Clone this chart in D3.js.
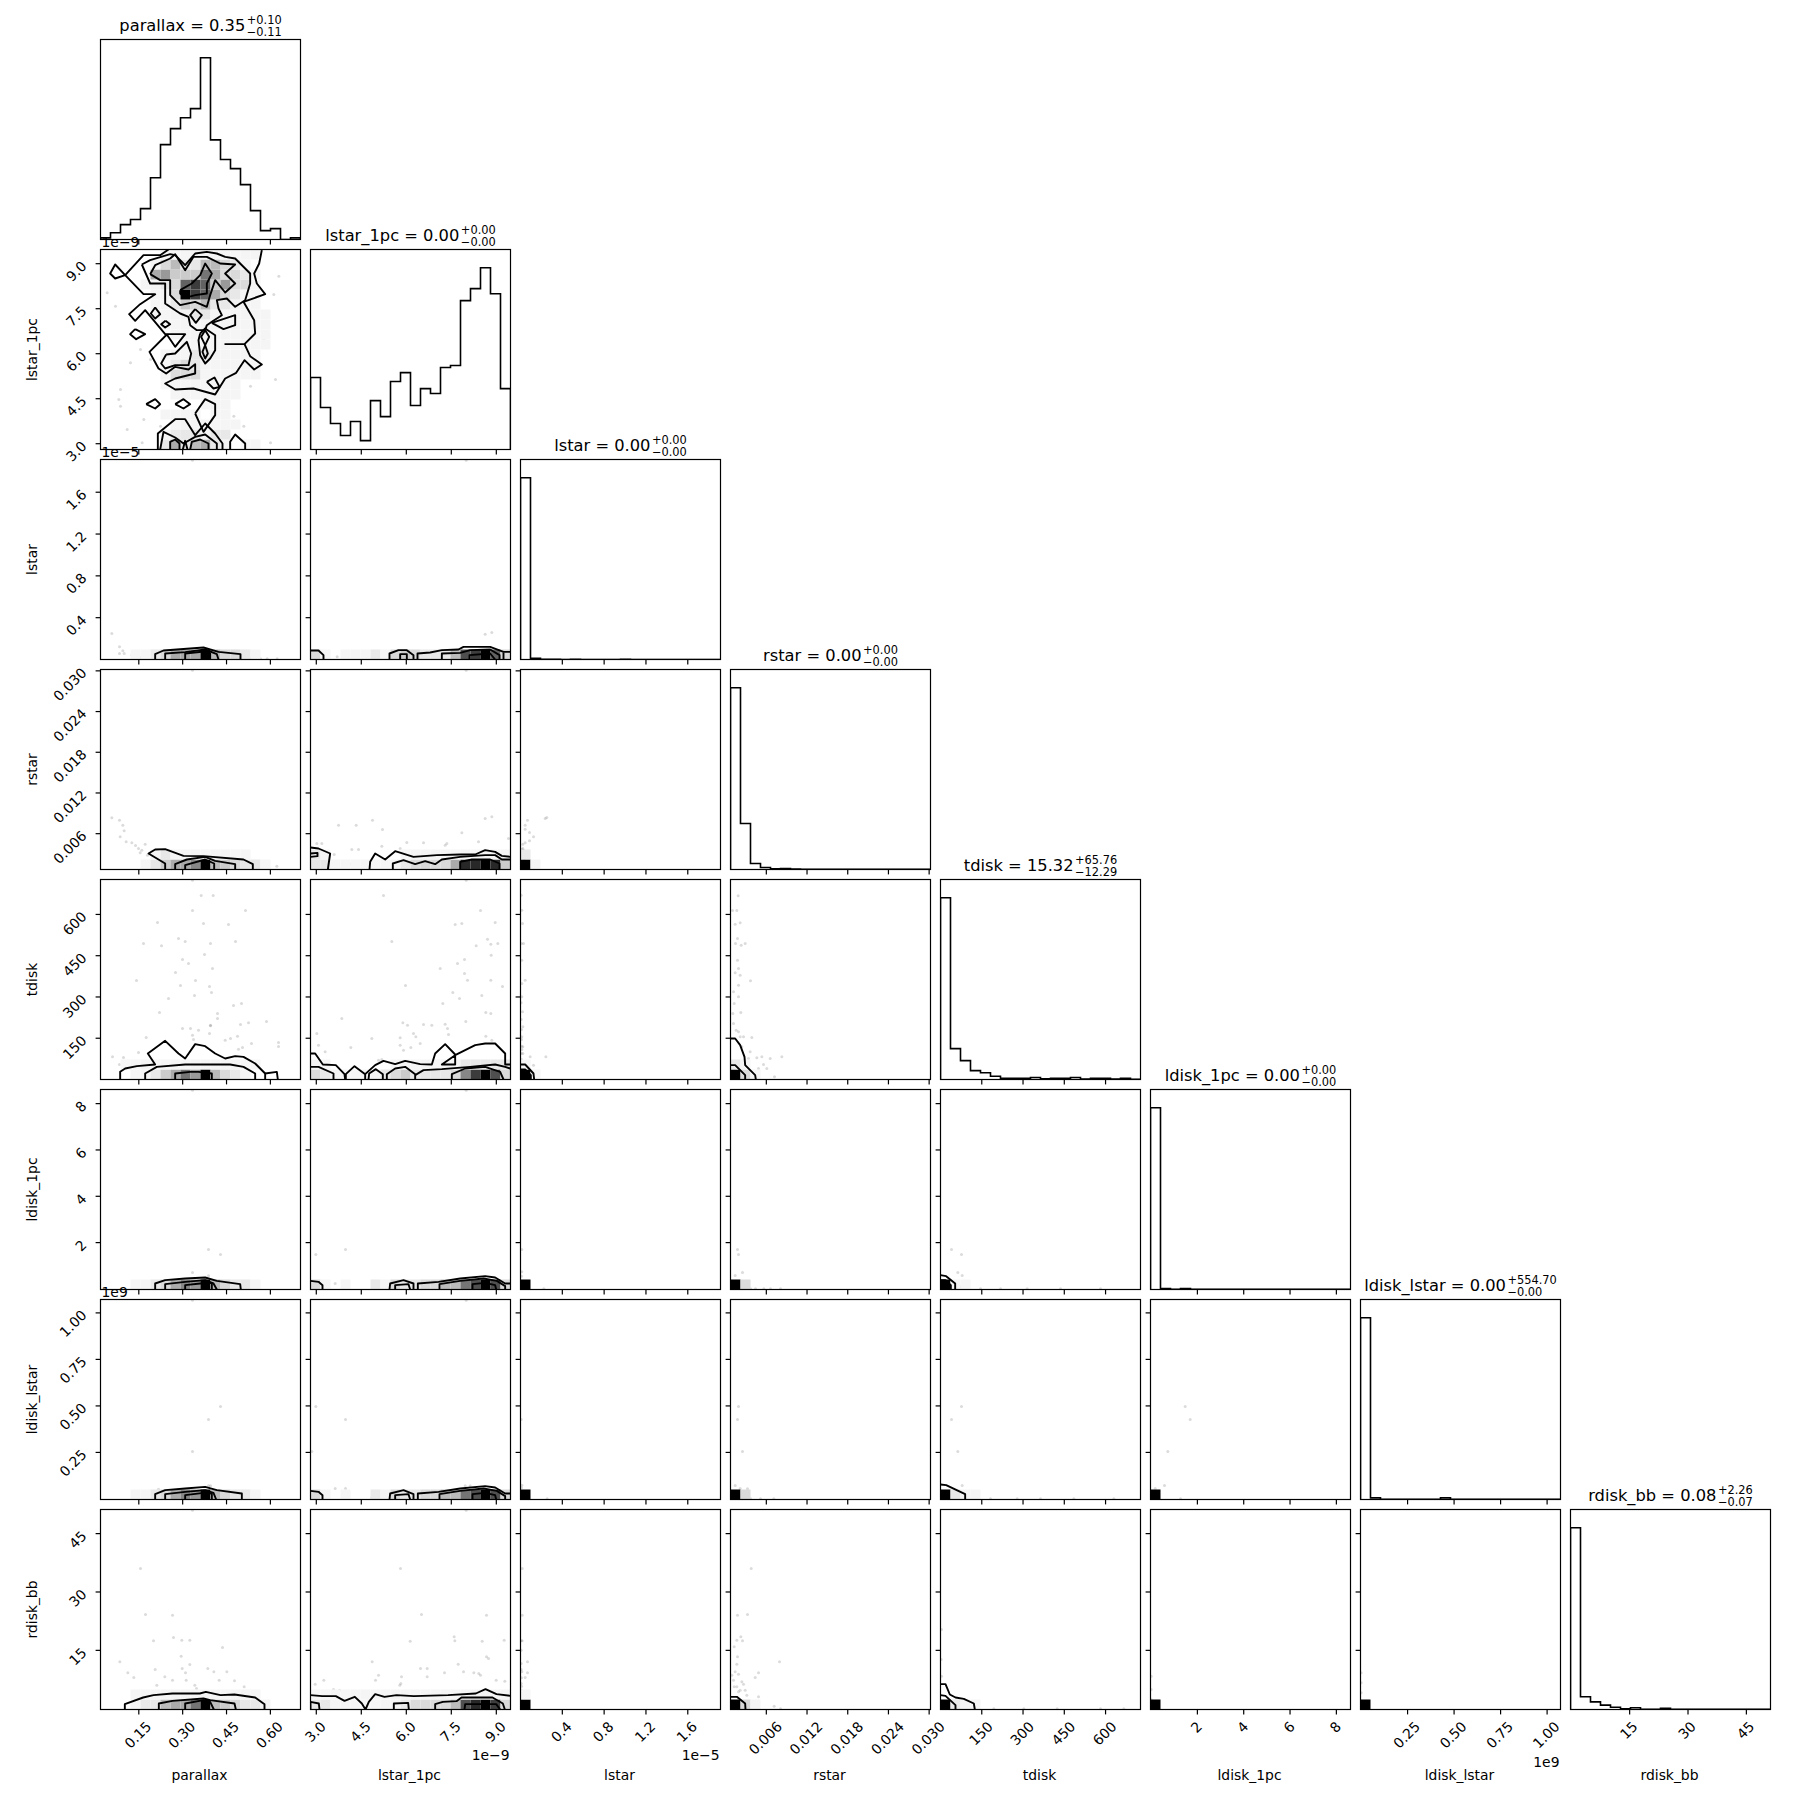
<!DOCTYPE html>
<html><head><meta charset="utf-8">
<script src="https://cdnjs.cloudflare.com/ajax/libs/d3/7.8.5/d3.min.js"></script>
<style>html,body{margin:0;padding:0;background:#fff}svg{display:block}text{font-family:"DejaVu Sans",sans-serif;fill:#000}</style>
</head><body><svg id="c" width="1809" height="1809"></svg>
<script>
// ---- variables ----
const names = ["parallax","lstar_1pc","lstar","rstar","tdisk","ldisk_1pc","ldisk_lstar","rdisk_bb"];
const limits = [[0.019,0.703],[2.807,9.473],[0,1.913],[0.00072,0.0302],[0,727],[-0.024,8.61],[-0.003,1.072],[-0.2,51.2]];
const tickVals = [[0.15,0.30,0.45,0.60],[3,4.5,6,7.5,9],[0.4,0.8,1.2,1.6],[0.006,0.012,0.018,0.024,0.030],[150,300,450,600],[2,4,6,8],[0.25,0.50,0.75,1.00],[15,30,45]];
const tickLabels = [["0.15","0.30","0.45","0.60"],["3.0","4.5","6.0","7.5","9.0"],["0.4","0.8","1.2","1.6"],["0.006","0.012","0.018","0.024","0.030"],["150","300","450","600"],["2","4","6","8"],["0.25","0.50","0.75","1.00"],["15","30","45"]];
const yOffsetText = {1:"1e\u22129",2:"1e\u22125",6:"1e9"};
const xOffsetText = {1:["1e\u22129",1760],2:["1e\u22125",1760],6:["1e9",1767]};
const medians = ["0.35","0.00","0.00","0.00","15.32","0.00","0.00","0.08"];
const uppers = ["+0.10","+0.00","+0.00","+0.00","+65.76","+0.00","+554.70","+2.26"];
const lowers = ["\u22120.11","\u22120.00","\u22120.00","\u22120.00","\u221212.29","\u22120.00","\u22120.00","\u22120.07"];

// ---- 1D histograms: 20 bins, percent of tallest bin ----
const hist_parallax = [0.9,3.7,8.2,11,17,34,52.2,61,67,72,100,54.8,44,39,30.2,15.9,4.9,6,0,0.9];
const hist_lstar_1pc = [39.6,23.1,14.3,7.7,15.4,4.9,26.9,18.1,37.4,42.3,24.2,33.5,30.8,45.1,46.2,81.9,88.5,100,85.7,33.5];
const hist_lstar = [100,0.6,0.1,0.05,0,0.05,0,0,0,0,0.05,0,0,0,0,0,0,0,0,0];
const hist_rstar = [100,25.3,3.3,1.1,0.4,0.5,0.3,0.1,0.1,0.05,0.05,0.05,0.1,0.05,0.05,0.05,0.05,0.05,0.05,0.1];
const hist_tdisk = [100,17,10.4,4.9,3.7,1.8,0.7,0.7,0.7,1.1,0.4,0.6,0.6,1.1,0.2,0.6,0.6,0.2,0.6,0.1];
const hist_ldisk_1pc = [100,0.5,0.1,0.5,0.05,0.05,0.05,0.05,0.05,0.05,0.05,0.05,0.05,0.05,0.05,0.05,0.05,0.05,0.05,0.05];
const hist_ldisk_lstar = [100,0.9,0.1,0.1,0.1,0.1,0.1,0.1,0.9,0.1,0.1,0.1,0.1,0.1,0.1,0.1,0.1,0.1,0.1,0.1];
const hist_rdisk_bb = [100,7,4.2,2.4,1.2,0.4,1,0.1,0.1,0.6,0.1,0.1,0.1,0.1,0.1,0.1,0.1,0.1,0.1,0.1];
const hists = [hist_parallax,hist_lstar_1pc,hist_lstar,hist_rstar,hist_tdisk,hist_ldisk_1pc,hist_ldisk_lstar,hist_rdisk_bb];

// ---- 2D density: per panel "col_row", bin row v (0 = bottom) -> 20 hex digits of density ----
const density_0_1 = {19:"00000 01111 11111 10000",18:"00000 13522 55321 00000",17:"00000 67444 96332 10000",16:"00001 123ac a4733 10000",15:"00000 113fc a6321 10000",14:"00000 11243 52211 10000",13:"00000 11112 21111 11000",12:"00000 01111 11111 11000",11:"00000 00111 11111 11000",10:"00000 00011 11111 11000",9:"00000 01112 21111 10000",8:"00000 01232 11111 10000",7:"00000 01333 11111 10000",6:"00000 01111 11110 00000",5:"00000 00111 11110 00000",4:"00000 00000 11100 00000",3:"00000 01111 01100 00000",2:"00000 00111 11110 00000",1:"00000 01222 12200 00000",0:"00000 02625 62101 10000"};
const density_0_2 = {0:"00011 23666 f5332 10000"};
const density_1_2 = {0:"31011 12134 32225 bcfa3"};
const density_0_3 = {0:"00001 24668 f5432 21000",1:"00000 12111 11111 00000"};
const density_1_3 = {0:"22111 11112 33336 ddfd4",1:"21000 00001 11111 11111"};
const density_0_4 = {0:"00011 24697 f5321 00000",1:"00111 11111 11111 10000"};
const density_1_4 = {0:"32111 11234 22223 8cfb3",1:"11000 00011 11111 22222"};
const density_0_5 = {0:"00011 23687 f5322 10000"};
const density_1_5 = {0:"31010 02132 23355 9bfb3"};
const density_0_6 = {0:"00011 23687 f5322 10000"};
const density_1_6 = {0:"31010 02132 23355 9bfb3"};
const density_0_7 = {0:"00012 25669 f5432 21000",1:"00011 11111 11111 10000"};
const density_1_7 = {0:"22111 11112 33335 bdfc3",1:"11111 11111 11111 11111"};
const density_2_3 = {0:"f1000",1:"20000"};
const density_2_4 = {0:"f1000",1:"10000"};
const density_2_5 = {0:"f"};
const density_2_6 = {0:"f"};
const density_2_7 = {0:"f",1:"10000"};
const density_3_4 = {0:"f3100",1:"21000"};
const density_3_5 = {0:"f3"};
const density_3_6 = {0:"f3"};
const density_3_7 = {0:"f31"};
const density_4_5 = {0:"f11"};
const density_4_6 = {0:"f211"};
const density_4_7 = {0:"f211"};
const density_5_6 = {0:"f"};
const density_5_7 = {0:"f"};
const density_6_7 = {0:"f"};

// ---- contours, as polylines; coordinates are read in 1/600 of each axis range ----
const contours_0_1 = [
 [[484,598],[476,558],[461,528],[469,498],[494,466],[429,443],[461,388],[464,348],[432,316],[372,316]],
 [[432,316],[449,280],[484,255],[461,240],[432,268],[407,230],[374,213],[344,165],[279,183],[224,180],[194,198],[224,213],[284,228],[284,256],[264,240],[224,248],[197,228],[174,243],[147,293],[199,345],[224,308],[254,346],[194,346],[134,418],[104,386],[86,406],[119,436],[164,466],[129,466],[74,523],[44,555],[29,528],[44,513],[74,523],[129,583],[179,583],[204,600]],
 [[124,555],[149,568],[209,586],[224,583],[254,553],[284,588],[319,593],[349,588],[374,578],[404,573],[449,528],[449,498],[434,448],[404,428],[379,453],[349,448],[354,423],[364,403],[334,383],[319,373],[314,358],[289,358],[269,373],[264,398],[239,408],[194,438],[194,498],[149,498],[124,555]],
 [[149,526],[164,553],[209,573],[224,586],[254,538],[279,578],[319,578],[359,558],[404,555],[374,528],[404,498],[374,471],[344,508],[329,463],[319,428],[284,443],[239,433],[209,463],[209,508],[179,508],[149,526]],
 [[239,478],[274,498],[299,523],[314,558],[334,528],[319,498],[319,468],[284,463],[254,455],[239,468],[239,478]],
 [[164,426],[179,406],[164,393],[151,408],[164,426]],
 [[195,386],[209,376],[194,366],[182,376],[195,386]],
 [[104,361],[134,346],[107,331],[89,346],[104,361]],
 [[284,421],[304,403],[286,380],[269,403],[284,421]],
 [[299,348],[314,363],[344,343],[344,298],[329,273],[314,258],[299,283],[294,328],[299,348]],
 [[314,358],[326,338],[314,313],[322,288],[314,273],[306,293],[314,313],[302,338],[314,358]],
 [[334,380],[404,403],[404,373],[369,361],[334,380]],
 [[197,285],[224,288],[259,323],[272,288],[264,253],[224,253],[194,243],[182,258],[197,285]],
 [[319,203],[342,216],[357,188],[339,183],[319,203]],
 [[137,136],[164,151],[179,136],[164,123],[137,136]],
 [[224,136],[249,151],[269,136],[249,123],[224,136]],
 [[284,108],[314,151],[344,136],[344,103],[309,53],[284,108]],
 [[172,0],[172,48],[224,91],[254,91],[284,43],[314,78],[344,48],[366,18],[366,0]],
 [[179,0],[189,53],[224,36],[249,18],[284,38],[314,45],[349,18],[349,0]],
 [[209,0],[209,23],[224,30],[237,18],[237,0]],
 [[247,0],[254,26],[261,0]],
 [[269,0],[274,23],[299,30],[324,18],[324,0]],
 [[389,0],[389,23],[404,45],[434,18],[434,0]]];
const contours_0_2 = [[[164,0],[164,16],[189,27],[309,36],[354,23],[420,16],[420,0]],[[194,0],[194,18],[254,22],[314,30],[349,16],[354,0]],[[254,0],[254,18],[311,24],[329,18],[329,0]]];
const contours_1_2 = [[[0,27],[24,27],[39,13],[39,0]],[[237,0],[237,18],[264,28],[289,28],[309,13],[309,0]],[[269,0],[269,16],[289,16],[289,0]],[[321,0],[321,18],[359,21],[394,28],[444,30],[459,38],[539,38],[579,23],[600,23]],[[394,0],[394,18],[449,20],[479,28],[539,30],[567,13],[567,0]],[[477,0],[477,13],[539,18],[554,0]],[[579,0],[579,21]]];
const contours_0_3 = [[[194,0],[194,18],[144,48],[164,60],[194,61],[249,41],[309,40],[429,30],[457,16],[457,0]],[[224,0],[224,16],[259,30],[314,38],[344,26],[404,16],[404,0]],[[254,0],[254,13],[314,30],[341,18],[341,0]]];
const contours_1_3 = [[[0,66],[24,63],[59,48],[52,0]],[[0,48],[21,50],[21,40],[0,38]],[[177,0],[179,23],[194,48],[224,30],[254,55],[309,38],[379,43],[449,45],[494,45],[524,58],[554,53],[574,41],[599,38]],[[247,0],[247,18],[279,28],[314,16],[344,25],[374,16],[394,30],[449,38],[524,43],[554,43],[574,30],[599,30]],[[449,0],[449,23],[484,30],[539,30],[567,18],[567,0]]];
const contours_0_4 = [[[59,0],[59,23],[74,33],[109,40],[164,45],[142,78],[194,116],[234,78],[254,63],[284,106],[314,100],[344,78],[374,63],[404,70],[429,68],[464,48],[494,18],[494,0]],[[494,18],[529,23],[532,0]],[[134,0],[134,18],[169,38],[254,45],[389,45],[429,38],[464,18],[464,0]],[[224,0],[224,18],[269,23],[294,23],[334,18],[334,0]]];
const contours_1_4 = [[[0,78],[14,78],[37,45],[76,43],[102,16],[104,0]],[[106,0],[106,16],[132,40],[164,16],[164,0]],[[164,16],[194,43],[219,56],[254,46],[284,56],[329,46],[364,45],[374,78],[404,106],[434,75],[434,45],[394,45],[434,73],[494,103],[524,108],[554,108],[584,78],[584,45],[599,45]],[[0,38],[24,38],[69,18],[69,0]],[[174,0],[176,18],[196,31],[217,16],[217,0]],[[229,0],[229,16],[254,33],[284,38],[314,16],[314,0]],[[314,13],[339,28],[394,31],[479,38],[554,45],[584,38],[599,33]],[[424,0],[424,16],[464,33],[524,38],[569,23],[579,0]]];
const contours_0_5 = [[[164,0],[164,18],[194,28],[254,33],[314,36],[349,26],[419,16],[421,0]],[[194,0],[194,16],[254,23],[314,28],[339,18],[349,0]],[[254,0],[254,13],[299,18],[334,20],[334,0]]];
const contours_1_5 = [[[0,26],[24,23],[36,13],[36,0]],[[237,0],[239,18],[279,28],[309,18],[309,0]],[[254,0],[254,13],[294,16],[299,0]],[[322,0],[322,18],[384,23],[449,33],[524,40],[554,36],[584,18],[599,18]],[[387,0],[387,16],[449,26],[519,33],[559,26],[584,10],[584,0]],[[486,0],[486,16],[524,20],[554,13],[557,0]]];
const contours_0_6 = [[[164,0],[164,16],[194,28],[254,33],[314,38],[349,28],[424,18],[424,0]],[[194,0],[194,16],[254,23],[314,28],[339,20],[347,0]],[[254,0],[254,13],[309,20],[334,18],[334,0]]];
const contours_1_6 = [[[0,26],[24,23],[36,13],[36,0]],[[237,0],[239,18],[279,28],[309,16],[309,0]],[[254,0],[254,13],[294,16],[299,0]],[[322,0],[322,18],[384,23],[449,33],[524,40],[554,36],[584,18],[599,18]],[[387,0],[387,16],[449,26],[519,33],[559,26],[584,10],[584,0]],[[486,0],[486,16],[524,20],[554,13],[557,0]]];
const contours_0_7 = [[[73,0],[73,16],[128,36],[159,43],[216,48],[298,48],[316,53],[360,43],[402,45],[464,36],[492,16],[492,0]],[[175,0],[175,18],[216,26],[309,33],[329,28],[402,18],[406,0]],[[254,0],[254,18],[309,28],[329,23],[340,0]]];
const contours_1_7 = [[[0,43],[35,40],[76,40],[102,26],[133,38],[154,18],[165,0],[175,23],[194,46],[222,38],[258,43],[310,40],[413,43],[496,48],[525,61],[558,46],[600,41]],[[0,0],[0,23],[25,18],[27,0]],[[250,0],[250,18],[293,20],[295,0]],[[374,0],[374,16],[397,23],[438,25],[453,36],[546,36],[577,18],[583,0]],[[462,0],[464,16],[557,16],[569,0]]];
const contours_2_4 = [[[0,45],[14,45],[39,18],[41,0]],[[0,30],[14,30],[31,13],[31,0]]];
const contours_3_4 = [[[0,123],[14,123],[29,103],[42,68],[44,43],[74,13],[76,0]],[[0,43],[14,43],[44,13],[44,0]]];
const contours_3_7 = [[[0,38],[19,38],[44,18],[45,0]]];
const contours_4_5 = [[[0,43],[17,40],[44,18],[44,0]],[[0,28],[15,28],[31,13],[31,0]]];
const contours_4_6 = [[[0,45],[17,43],[74,16],[74,0]]];
const contours_4_7 = [[[0,76],[15,76],[28,45],[45,36],[70,32],[100,18],[103,0]],[[0,43],[15,41],[45,13],[45,0]]];

// ---- outlying samples, same units ----
const points_0_1 = [[20,470],[45,430],[60,180],[55,150],[90,260],[120,300],[150,270],[60,130],[80,60],[125,20],[130,90],[180,70],[200,40],[460,340],[510,20],[525,210],[490,330],[520,465],[535,520],[345,110],[400,100],[430,70],[450,190]];
const points_0_2 = [[34,78],[57,38],[67,26],[57,18],[71,18],[94,13],[114,10],[134,6],[100,8],[120,6],[450,2],[480,2],[500,2],[530,2],[276,598]];
const points_1_2 = [[524,76],[544,81],[50,2],[80,8],[130,5],[185,3],[467,598]];
const points_0_3 = [[34,155],[57,148],[67,133],[71,116],[59,98],[77,83],[94,80],[114,63],[134,76],[119,50],[141,43],[474,8],[499,6],[529,10],[276,598],[124,58],[105,72]];
const points_1_3 = [[84,133],[137,133],[186,148],[216,120],[289,81],[339,80],[404,73],[409,78],[454,110],[504,83],[524,153],[544,158],[594,93],[19,78],[34,78],[124,60],[144,60],[71,45],[79,18],[104,20],[119,16],[269,63],[214,70],[467,598]];
const points_0_4 = [[302,552],[338,552],[276,507],[435,507],[171,471],[309,468],[384,465],[129,408],[234,423],[254,414],[183,401],[330,408],[405,414],[312,375],[246,360],[264,348],[336,333],[225,321],[108,297],[285,297],[240,282],[327,279],[333,261],[282,252],[204,243],[399,222],[423,228],[177,201],[351,198],[351,183],[444,170],[420,165],[498,174],[330,161],[270,153],[246,153],[294,148],[327,138],[137,126],[276,133],[411,130],[390,123],[374,118],[453,108],[534,111],[534,99],[426,96],[414,91],[36,68],[69,66],[57,45],[114,81],[279,120],[330,163],[276,598]];
const points_1_4 = [[219,552],[244,414],[510,507],[434,465],[454,468],[554,471],[531,421],[541,406],[562,408],[497,401],[542,373],[462,360],[441,348],[389,333],[462,318],[471,298],[541,298],[285,282],[576,279],[427,261],[447,243],[514,252],[397,228],[526,201],[541,198],[466,174],[277,170],[291,163],[339,165],[364,163],[404,166],[411,153],[269,125],[309,138],[316,128],[329,108],[414,135],[526,130],[544,118],[301,96],[269,103],[184,123],[94,183],[19,138],[24,103],[44,83],[121,96],[204,58],[214,60],[279,88],[467,598]];
const points_0_5 = [[324,120],[360,105],[276,51],[324,41],[276,598]];
const points_1_5 = [[16,105],[105,120],[74,18],[105,13],[467,598]];
const points_0_6 = [[360,279],[324,240],[276,144],[174,31],[324,41],[330,41],[434,22],[276,598]];
const points_1_6 = [[16,279],[105,240],[4,144],[74,33],[105,33],[464,41],[479,41],[184,6],[467,598]];
const points_0_7 = [[120,423],[135,285],[216,283],[159,206],[219,216],[244,208],[268,208],[366,186],[58,143],[268,135],[82,110],[100,96],[164,120],[193,98],[216,88],[242,160],[245,123],[255,110],[257,88],[322,123],[340,113],[379,113],[356,88],[402,86],[431,68],[283,73],[288,63],[169,73],[144,53],[102,38],[276,598]];
const points_1_7 = [[270,423],[333,285],[528,283],[299,205],[431,218],[433,206],[515,205],[581,208],[185,143],[204,103],[195,88],[273,98],[271,78],[268,73],[330,123],[350,123],[350,98],[402,110],[443,136],[459,113],[490,110],[505,108],[510,103],[528,158],[534,153],[557,88],[583,85],[14,76],[40,88],[69,60],[87,58],[173,53],[467,598]];
const points_2_3 = [[79,156],[74,153],[21,148],[14,133],[14,121],[27,111],[39,98],[27,86],[14,80],[7,76],[7,63],[9,58],[11,50],[5,38],[7,43],[11,33],[3,53],[15,36],[6,45],[8,55],[4,60],[10,40]];
const points_2_4 = [[2,553],[4,508],[6,468],[9,408],[2,408],[4,358],[14,298],[4,288],[4,248],[6,203],[7,158],[4,128],[7,98],[7,78],[29,68],[76,68],[39,43],[24,43],[2,78],[3,120],[2,180],[2,230],[3,100],[4,90],[3,150],[3,60]];
const points_2_5 = [[4,120],[4,53],[3,40],[70,2]];
const points_2_6 = [[2,240],[4,43],[3,35],[80,2]];
const points_2_7 = [[5,423],[5,283],[5,206],[2,206],[21,143],[2,178],[2,138],[4,113],[21,110],[14,96],[2,78],[2,58],[2,43],[4,33],[3,95],[3,70],[2,120],[3,50]];
const points_3_4 = [[23,551],[6,507],[19,507],[14,466],[29,470],[21,423],[15,408],[32,403],[44,408],[21,358],[24,333],[14,320],[29,313],[60,296],[24,283],[9,263],[24,248],[11,228],[31,201],[7,198],[9,168],[17,148],[24,143],[29,128],[39,128],[64,126],[34,98],[59,83],[79,65],[94,68],[119,63],[154,68],[54,63],[99,45],[84,33],[109,33],[132,8]];
const points_3_5 = [[21,120],[24,105],[36,51],[14,42],[51,15],[60,2],[75,2],[100,2],[120,2],[150,2]];
const points_3_6 = [[24,279],[21,240],[36,144],[14,42],[51,32],[29,33],[60,2],[90,2],[130,2]];
const points_3_7 = [[62,423],[21,283],[51,285],[19,208],[31,218],[36,206],[21,158],[11,188],[147,143],[84,110],[74,96],[19,136],[14,113],[24,106],[9,88],[34,83],[39,76],[19,68],[29,58],[44,58],[49,43],[84,38],[74,23],[131,10],[4,103],[11,68],[24,53],[150,2]];
const points_4_5 = [[33,120],[63,105],[52,51],[65,42],[61,8],[120,2],[180,2],[260,2],[360,2],[480,2]];
const points_4_6 = [[63,279],[33,240],[52,144],[65,42],[80,2],[150,2],[230,2],[300,2],[400,2],[520,2]];
const points_4_7 = [[3,240],[2,150],[3,100],[90,2],[160,2],[250,2],[350,2],[480,2],[550,2]];
const points_5_6 = [[104,279],[119,240],[52,144],[42,42],[14,33],[90,2]];
const points_5_7 = [[2,60],[2,30],[2,100]];
const points_6_7 = [[2,50],[2,80],[2,110]];

const scope = {density_0_1,density_0_2,density_1_2,density_0_3,density_1_3,density_0_4,density_1_4,density_0_5,density_1_5,density_0_6,density_1_6,density_0_7,density_1_7,density_2_3,density_2_4,density_2_5,density_2_6,density_2_7,density_3_4,density_3_5,density_3_6,density_3_7,density_4_5,density_4_6,density_4_7,density_5_6,density_5_7,density_6_7,
 contours_0_1,contours_0_2,contours_1_2,contours_0_3,contours_1_3,contours_0_4,contours_1_4,contours_0_5,contours_1_5,contours_0_6,contours_1_6,contours_0_7,contours_1_7,contours_2_4,contours_3_4,contours_3_7,contours_4_5,contours_4_6,contours_4_7,
 points_0_1,points_0_2,points_1_2,points_0_3,points_1_3,points_0_4,points_1_4,points_0_5,points_1_5,points_0_6,points_1_6,points_0_7,points_1_7,points_2_3,points_2_4,points_2_5,points_2_6,points_2_7,points_3_4,points_3_5,points_3_6,points_3_7,points_4_5,points_4_6,points_4_7,points_5_6,points_5_7,points_6_7};

// ---- layout ----
const PANEL = 200, STEP = 210, LEFT = 100.5, TOP = 39.5, TICK = 4.9, PAD = 4.9, FS = 13.9;
const svg = d3.select("#c");
svg.append("rect").attr("width",1809).attr("height",1809).attr("fill","#fff");
const xs = limits.map(l => d3.scaleLinear().domain(l).range([0,PANEL]));
const ys = limits.map(l => d3.scaleLinear().domain(l).range([PANEL,0]));
const unit = l => d3.scaleLinear().domain([0,600]).range(l);   // 1/600 axis units -> data
const bin = l => d3.scaleLinear().domain([0,20]).range(l);     // histogram bin index -> data
const shade = d => { const g = 255*(1-Math.pow(d/15,1.2)); return d3.rgb(g,g,g).formatHex(); };
const N = names.length;

function xAxis(g, c, labelled){
  const ax = d3.axisBottom(xs[c]).tickValues(tickVals[c]).tickSize(TICK).tickSizeOuter(0).offset(0)
    .tickPadding(PAD).tickFormat((d,i)=> labelled ? tickLabels[c][i] : "");
  const a = g.append("g").attr("transform",`translate(0,${PANEL})`).call(ax);
  a.select(".domain").remove();
  a.selectAll("line").attr("stroke","#000").attr("stroke-width",1.2);
  a.selectAll("text").attr("font-size",FS).attr("font-family",null).attr("fill","#000").each(function(){
    const t = d3.select(this), w = this.getComputedTextLength(), b = (w+13)*Math.SQRT1_2;
    t.attr("x",0).attr("y",0).attr("dy",null).attr("text-anchor","middle").attr("dominant-baseline","central")
     .attr("transform",`translate(-1,${TICK+PAD+b/2}) rotate(-45)`);
  });
}
function yAxis(g, r, labelled){
  const ax = d3.axisLeft(ys[r]).tickValues(tickVals[r]).tickSize(TICK).tickSizeOuter(0).offset(0)
    .tickPadding(PAD).tickFormat((d,i)=> labelled ? tickLabels[r][i] : "");
  const a = g.append("g").call(ax);
  a.select(".domain").remove();
  a.selectAll("line").attr("stroke","#000").attr("stroke-width",1.2);
  a.selectAll("text").attr("font-size",FS).attr("font-family",null).attr("fill","#000").each(function(){
    const t = d3.select(this), w = this.getComputedTextLength(), b = (w+10)*Math.SQRT1_2;
    t.attr("x",0).attr("y",0).attr("dy",null).attr("text-anchor","middle").attr("dominant-baseline","central")
     .attr("transform",`translate(${-(13+b/2)},${0.34*w}) rotate(-45)`);
  });
}
function frame(g){
  g.append("rect").attr("width",PANEL).attr("height",PANEL).attr("fill","none").attr("stroke","#000").attr("stroke-width",1.2);
}

svg.append("defs").append("clipPath").attr("id","clip").append("rect").attr("width",PANEL).attr("height",PANEL);

// off-diagonal panels
for (let r=1;r<N;r++) for (let c=0;c<r;c++){
  const key = c+"_"+r;
  const g = svg.append("g").attr("transform",`translate(${LEFT+STEP*c},${TOP+STEP*r})`);
  const body = g.append("g").attr("clip-path","url(#clip)");
  const ux = unit(limits[c]), uy = unit(limits[r]), bx = bin(limits[c]), by = bin(limits[r]);
  const X = xs[c], Y = ys[r];
  const dens = scope["density_"+key] || {}, cells = [];
  Object.keys(dens).forEach(v => {
    dens[v].replace(/ /g,"").split("").forEach((ch,u) => {
      const d = parseInt(ch,16); if (d>0) cells.push({u,v:+v,d});
    });
  });
  body.selectAll("circle").data(scope["points_"+key]||[]).join("circle")
    .attr("cx",p=>X(ux(p[0]))).attr("cy",p=>Y(uy(p[1]))).attr("r",1.5).attr("fill","#000").attr("fill-opacity",0.14);
  body.selectAll("rect.cell").data(cells).join("rect").attr("class","cell")
    .attr("x",d=>X(bx(d.u))).attr("y",d=>Y(by(d.v+1)))
    .attr("width",d=>X(bx(d.u+1))-X(bx(d.u))).attr("height",d=>Y(by(d.v))-Y(by(d.v+1)))
    .attr("fill",d=>shade(d.d));
  const line = d3.line().x(p=>X(ux(p[0]))).y(p=>Y(uy(p[1])));
  body.selectAll("path.ct").data(scope["contours_"+key]||[]).join("path").attr("class","ct")
    .attr("d",line).attr("fill","none").attr("stroke","#000").attr("stroke-width",1.9).attr("stroke-linejoin","round");
  xAxis(g,c,r===N-1);
  yAxis(g,r,c===0);
  frame(g);
}

// diagonal panels
names.forEach((name,i)=>{
  const g = svg.append("g").attr("transform",`translate(${LEFT+STEP*i},${TOP+STEP*i})`);
  const b = bin(limits[i]), X = xs[i];
  const hy = d3.scaleLinear().domain([0,110]).range([PANEL,0]);
  const pts = [[0,0]];
  hists[i].forEach((h,k)=>{ pts.push([k,h]); pts.push([k+1,h]); });
  pts.push([20,0]);
  g.append("path").datum(pts).attr("clip-path","url(#clip)")
    .attr("d",d3.line().x(p=>X(b(p[0]))).y(p=>hy(p[1])))
    .attr("fill","none").attr("stroke","#000").attr("stroke-width",1.6).attr("stroke-linejoin","miter");
  xAxis(g,i,i===N-1);
  frame(g);
  // title with asymmetric errors
  const tg = g.append("g");
  const main = tg.append("text").attr("font-size",16.3).attr("y",-8.6).text(`${name} = ${medians[i]}`);
  const mw = main.node().getComputedTextLength();
  const up = tg.append("text").attr("font-size",11.4).attr("y",-15.3).attr("x",mw+1.5).text(uppers[i]);
  const lo = tg.append("text").attr("font-size",11.4).attr("y",-3.6).attr("x",mw+1.5).text(lowers[i]);
  const tw = mw+1.5+Math.max(up.node().getComputedTextLength(),lo.node().getComputedTextLength());
  tg.attr("transform",`translate(${PANEL/2-tw/2},0)`);
});

// axis labels
names.forEach((name,i)=>{
  svg.append("text").attr("font-size",FS).attr("text-anchor","middle").attr("dominant-baseline","central")
    .attr("x",LEFT+STEP*i+PANEL/2-1).attr("y",1775).text(name);
  if (i>0) svg.append("text").attr("font-size",FS).attr("text-anchor","middle").attr("dominant-baseline","central")
    .attr("transform",`translate(32,${TOP+STEP*i+PANEL/2}) rotate(-90)`).text(name);
});
// offset texts
Object.keys(yOffsetText).forEach(k=>{
  svg.append("text").attr("font-size",FS).attr("x",LEFT+1).attr("y",TOP+STEP*(+k)-2.8).text(yOffsetText[k]);
});
Object.keys(xOffsetText).forEach(k=>{
  svg.append("text").attr("font-size",FS).attr("text-anchor","end").attr("x",LEFT+STEP*(+k)+PANEL-1).attr("y",xOffsetText[k][1]).text(xOffsetText[k][0]);
});
</script></body></html>
